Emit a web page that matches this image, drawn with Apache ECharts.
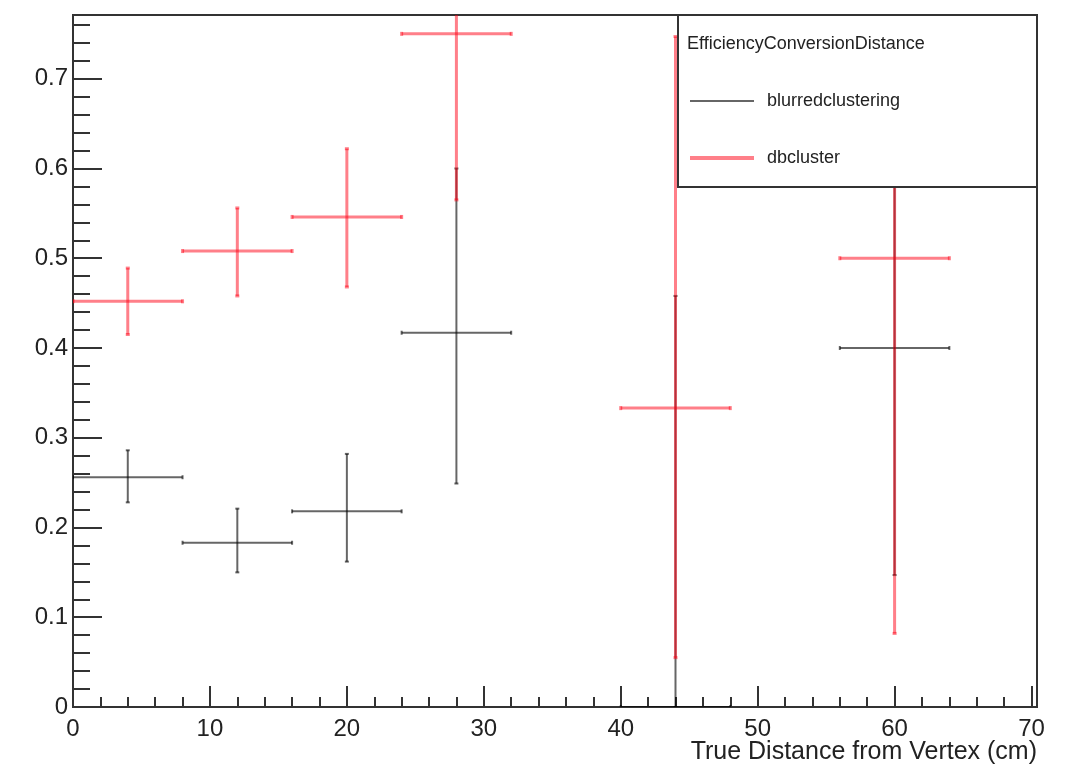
<!DOCTYPE html>
<html>
<head>
<meta charset="utf-8">
<script src="https://cdn.jsdelivr.net/npm/echarts@6/dist/echarts.min.js"></script>
<style>
html,body{margin:0;padding:0;background:#fff;}
#chart{width:1073px;height:767px;}
</style>
</head>
<body>
<div id="chart"></div>
<script>
// ---- data ----
const binCenters = [4, 12, 20, 28, 44, 60];
const binLowEdges = [0, 8, 16, 24, 40, 56];
const binHighEdges = [8, 16, 24, 32, 48, 64];

const blurredEff  = [0.256, 0.183, 0.218, 0.417, 0.0,   0.400];
const blurredLow  = [0.228, 0.150, 0.162, 0.249, 0.0,   0.147];
const blurredHigh = [0.286, 0.221, 0.282, 0.600, 0.458, 0.690];

const dbEff  = [0.452, 0.508, 0.546, 0.750, 0.333, 0.500];
const dbLow  = [0.415, 0.458, 0.468, 0.565, 0.055, 0.082];
const dbHigh = [0.489, 0.556, 0.622, 0.930, 0.747, 0.918];

const yMajorTicks = [0, 0.1, 0.2, 0.3, 0.4, 0.5, 0.6, 0.7];
const xMajorTicks = [0, 10, 20, 30, 40, 50, 60, 70];

const legendTitle = 'EfficiencyConversionDistance';
const seriesNames = ['blurredclustering', 'dbcluster'];
const xTitle = 'True Distance from Vertex (cm)';

// ---- build ----
function rows(eff, lo, hi) {
  return binCenters.map((c, i) => [c, eff[i], binLowEdges[i], binHighEdges[i], lo[i], hi[i]]);
}
function makeRender(color, width) {
  return function (params, api) {
    const x = api.value(0), y = api.value(1);
    const c = api.coord([x, y]);
    const l = api.coord([api.value(2), y]);
    const r = api.coord([api.value(3), y]);
    const lo = api.coord([x, api.value(4)]);
    const hi = api.coord([x, api.value(5)]);
    const st = { stroke: color, lineWidth: width, fill: null };
    const cap = 2;
    const children = [
      { type: 'line', shape: { x1: l[0], y1: c[1], x2: r[0], y2: c[1] }, style: st },
      { type: 'line', shape: { x1: c[0], y1: lo[1], x2: c[0], y2: hi[1] }, style: st },
      { type: 'line', shape: { x1: l[0], y1: c[1] - cap, x2: l[0], y2: c[1] + cap }, style: st },
      { type: 'line', shape: { x1: r[0], y1: c[1] - cap, x2: r[0], y2: c[1] + cap }, style: st },
      { type: 'line', shape: { x1: c[0] - cap, y1: lo[1], x2: c[0] + cap, y2: lo[1] }, style: st },
      { type: 'line', shape: { x1: c[0] - cap, y1: hi[1], x2: c[0] + cap, y2: hi[1] }, style: st }
    ];
    return { type: 'group', children: children };
  };
}

const FONT = '"Liberation Sans", Arial, Helvetica, sans-serif';
const AX = '#333';
const X_MAX = 70.4, Y_MAX = 0.771;

const chart = echarts.init(document.getElementById('chart'), null, { renderer: 'canvas' });
chart.setOption({
  animation: false,
  backgroundColor: '#fff',
  grid: { left: 73, right: 36, top: 15, bottom: 60, show: true, borderColor: AX, borderWidth: 2, backgroundColor: 'transparent' },
  xAxis: [
    {
      type: 'value', min: 0, max: X_MAX, interval: 10, position: 'bottom',
      axisLine: { show: true, onZero: false, lineStyle: { color: AX, width: 2 } },
      axisTick: { show: true, inside: true, length: 21, lineStyle: { color: AX, width: 2 } },
      axisLabel: { show: true, margin: 10, fontFamily: FONT, fontSize: 24, color: '#222', showMaxLabel: false,
        formatter: v => (xMajorTicks.indexOf(v) >= 0 ? String(v) : '') },
      splitLine: { show: false }
    },
    {
      type: 'value', min: 0, max: X_MAX, interval: 2, position: 'bottom',
      axisLine: { show: false, onZero: false },
      axisTick: { show: true, inside: true, length: 10, lineStyle: { color: AX, width: 2 } },
      axisLabel: { show: false },
      splitLine: { show: false }
    }
  ],
  yAxis: [
    {
      type: 'value', min: 0, max: Y_MAX, interval: 0.1, position: 'left',
      axisLine: { show: true, onZero: false, lineStyle: { color: AX, width: 2 } },
      axisTick: { show: true, inside: true, length: 29, lineStyle: { color: AX, width: 2 } },
      axisLabel: { show: true, margin: 5, fontFamily: FONT, fontSize: 24, color: '#222', showMaxLabel: false,
        formatter: v => { const m = yMajorTicks.find(t => Math.abs(t - v) < 1e-6); return m === undefined ? '' : String(m); } },
      splitLine: { show: false }
    },
    {
      type: 'value', min: 0, max: Y_MAX, interval: 0.02, position: 'left',
      axisLine: { show: false, onZero: false },
      axisTick: { show: true, inside: true, length: 17, lineStyle: { color: AX, width: 2 } },
      axisLabel: { show: false },
      splitLine: { show: false }
    }
  ],
  series: [
    {
      name: seriesNames[0], type: 'custom', xAxisIndex: 0, yAxisIndex: 0, clip: true, z: 3,
      renderItem: makeRender('rgba(0,0,0,0.6)', 2),
      encode: { x: 0, y: 1 },
      data: rows(blurredEff, blurredLow, blurredHigh)
    },
    {
      name: seriesNames[1], type: 'custom', xAxisIndex: 0, yAxisIndex: 0, clip: true, z: 4,
      renderItem: makeRender('rgba(255,0,20,0.5)', 3),
      encode: { x: 0, y: 1 },
      data: rows(dbEff, dbLow, dbHigh)
    }
  ],
  graphic: [
    { type: 'rect', z: 100, shape: { x: 678, y: 15, width: 359, height: 172 },
      style: { fill: '#fff', stroke: AX, lineWidth: 2 } },
    { type: 'text', z: 101, x: 687, y: 44,
      style: { text: legendTitle, font: '18px ' + FONT, fill: '#222', textVerticalAlign: 'middle', verticalAlign: 'middle' } },
    { type: 'line', z: 101, shape: { x1: 690, y1: 101, x2: 754, y2: 101 }, style: { stroke: 'rgba(0,0,0,0.6)', lineWidth: 2 } },
    { type: 'text', z: 101, x: 767, y: 101,
      style: { text: seriesNames[0], font: '18px ' + FONT, fill: '#222', textVerticalAlign: 'middle', verticalAlign: 'middle' } },
    { type: 'line', z: 101, shape: { x1: 690, y1: 158, x2: 754, y2: 158 }, style: { stroke: 'rgba(255,0,20,0.5)', lineWidth: 4 } },
    { type: 'text', z: 101, x: 767, y: 158,
      style: { text: seriesNames[1], font: '18px ' + FONT, fill: '#222', textVerticalAlign: 'middle', verticalAlign: 'middle' } },
    { type: 'text', z: 101, x: 1037, y: 752,
      style: { text: xTitle, font: '25px ' + FONT, fill: '#222', textAlign: 'right', align: 'right', textVerticalAlign: 'middle', verticalAlign: 'middle' } }
  ]
});
</script>
</body>
</html>
